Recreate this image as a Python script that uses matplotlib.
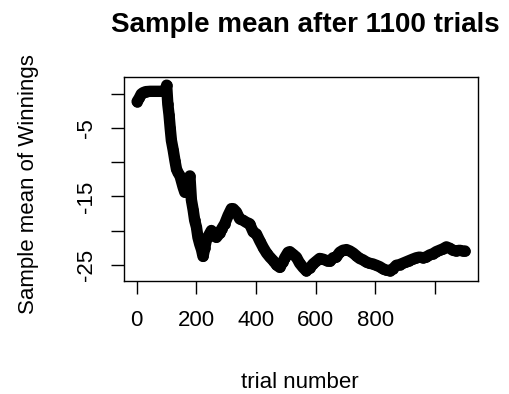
import matplotlib
matplotlib.use("Agg")
import matplotlib.pyplot as plt

# values (trial number, running sample mean)
trial = [1, 8, 15, 21, 30, 45, 60, 75, 90, 96, 100, 104, 108, 112, 116, 122,
         128, 133, 138, 145, 150, 155, 161, 166, 172, 178, 183, 189, 194, 200,
         205, 211, 217, 222, 228, 233, 240, 250, 258, 267, 278, 284, 295, 306,
         317, 323, 334, 345, 356, 367, 378, 390, 401, 412, 424, 435, 446, 457,
         468, 479, 490, 496, 507, 513, 524, 535, 546, 557, 568, 580, 591, 602,
         613, 624, 636, 647, 658, 669, 680, 691, 703, 714, 725, 736, 747, 758,
         769, 780, 791, 803, 814, 825, 836, 848, 859, 870, 881, 892, 903, 914,
         925, 937, 948, 959, 970, 981, 993, 1004, 1015, 1026, 1038, 1049, 1060,
         1071, 1082, 1093, 1100]
mean_win = [-1.1, -0.6, 0.0, 0.2, 0.35, 0.4, 0.4, 0.4, 0.4, 0.4, 1.3, -1.5,
            -3.0, -5.0, -6.8, -8.2, -9.8, -11.0, -11.5, -12.0, -12.8, -13.6,
            -14.4, -13.5, -12.5, -12.0, -15.5, -17.0, -18.5, -19.5, -21.0,
            -22.0, -22.8, -23.8, -22.5, -21.4, -20.8, -20.0, -20.8, -21.0,
            -20.4, -19.8, -19.0, -17.8, -16.8, -16.8, -17.3, -18.3, -18.5,
            -18.8, -19.0, -20.2, -20.5, -21.5, -22.5, -23.3, -23.9, -24.4,
            -25.0, -25.4, -24.6, -24.0, -23.2, -23.1, -23.5, -23.9, -24.8,
            -25.4, -25.9, -25.5, -24.9, -24.5, -24.1, -24.2, -24.4, -24.5,
            -24.0, -23.9, -23.2, -22.9, -22.8, -23.0, -23.3, -23.7, -24.1,
            -24.3, -24.6, -24.8, -24.9, -25.1, -25.3, -25.6, -25.8, -25.9,
            -25.6, -25.1, -25.0, -24.8, -24.6, -24.4, -24.2, -24.0, -23.9,
            -24.0, -23.9, -23.6, -23.4, -23.1, -22.9, -22.7, -22.4, -22.6,
            -22.9, -23.0, -22.9, -23.0, -23.0]

x_ticks = [0, 200, 400, 600, 800, 1000]
x_tick_labels = ["0", "200", "400", "600", "800", ""]
y_ticks = [0, -5, -10, -15, -20, -25]
y_tick_labels = ["", "-5", "", "-15", "", "-25"]

plt.rcParams['font.family'] = ['Liberation Sans', 'DejaVu Sans']

fig = plt.figure(figsize=(5.1, 3.94), dpi=100)
ax = fig.add_axes([0.2431, 0.2868, 0.6942, 0.5178])

# thick band + open circles, like R's plot() with many overlapping points
ax.plot(trial, mean_win, color="black", lw=8.2, solid_joinstyle="round",
        solid_capstyle="round")
ax.plot(trial, mean_win, linestyle="none", marker="o", ms=6.5, mfc="none",
        mec="black", mew=1.1)

ax.set_xlim(-43, 1144)
ax.set_ylim(-27.4, 2.5)

ax.set_xticks(x_ticks)
ax.set_xticklabels(x_tick_labels)
ax.set_yticks(y_ticks)
ax.set_yticklabels(y_tick_labels, rotation=90, va="center")
ax.tick_params(axis="both", length=9.4, width=1.0, labelsize=16,
               colors="black")
ax.tick_params(axis="x", pad=11.5)
ax.tick_params(axis="y", pad=10)
for s in ax.spines.values():
    s.set_linewidth(1.0)

fig.text(305 / 510, 1 - 31.7 / 394, "Sample mean after 1100 trials",
         ha="center", va="baseline", fontsize=20, fontweight="bold")
fig.text(300 / 510, 1 - 382 / 394, "trial number", ha="center", va="center",
         fontsize=16)
fig.text(29 / 510, 1 - 184 / 394, "Sample mean of Winnings", ha="center",
         va="center", rotation=90, fontsize=16)

fig.savefig("out.png", dpi=100)
